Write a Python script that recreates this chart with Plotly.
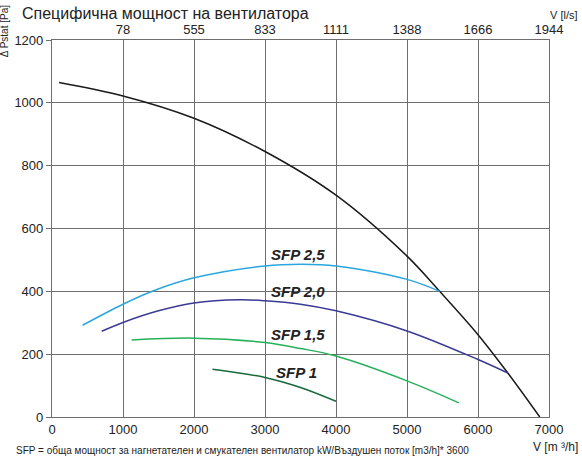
"""Специфична мощност на вентилатора - графика с Plotly."""

import plotly.graph_objects as go

# Характеристика на вентилатора (черна крива)
fan_x = [100, 1000, 2000, 3000, 4000, 5000, 5460, 6000, 6420, 6870]
fan_y = [1065, 1022, 951, 845, 706, 512, 400, 262, 140, 0]

# SFP криви
sfp25_x = [430, 1000, 1430, 2000, 3000, 3500, 4000, 5000, 5460]
sfp25_y = [292, 359, 402, 443, 481, 486, 481, 438, 400]

sfp20_x = [700, 1000, 1500, 2000, 2650, 3000, 3500, 4000, 5000, 6000, 6420]
sfp20_y = [273, 301, 338, 363, 373, 370, 359, 338, 274, 183, 140]

sfp15_x = [1120, 2000, 3000, 3500, 4000, 5000, 5730]
sfp15_y = [245, 251, 237, 218, 194, 115, 45]

sfp10_x = [2260, 3000, 3500, 4000]
sfp10_y = [152, 126, 94, 50]

# Етикети на кривите
label_text = ["SFP 2,5", "SFP 2,0", "SFP 1,5", "SFP 1"]
label_x = [3460, 3460, 3460, 3440]
label_y = [516, 399, 262, 142]

# Скали
x_ticks = [0, 1000, 2000, 3000, 4000, 5000, 6000, 7000]
top_ticks = [1000, 2000, 3000, 4000, 5000, 6000, 7000]
top_labels = ["78", "555", "833", "1111", "1388", "1666", "1944"]
y_ticks = [0, 200, 400, 600, 800, 1000, 1200]

FONT = "Liberation Sans, Arial, sans-serif"
GRID = "#6e6e6e"

fig = go.Figure()

curves = [
    (fan_x, fan_y, "#1a1a1a"),
    (sfp25_x, sfp25_y, "#2aa6df"),
    (sfp20_x, sfp20_y, "#3a3a96"),
    (sfp15_x, sfp15_y, "#25b05a"),
    (sfp10_x, sfp10_y, "#17693a"),
]
for xs, ys, color in curves:
    fig.add_trace(go.Scatter(
        x=xs, y=ys, mode="lines",
        line=dict(color=color, width=1.5, shape="spline", smoothing=1.0),
        showlegend=False, hoverinfo="skip",
    ))

# невидима следа за горната ос
fig.add_trace(go.Scatter(x=[0, 7000], y=[0, 0], xaxis="x2", mode="lines",
                         line=dict(width=0), showlegend=False, hoverinfo="skip"))

for txt, lx, ly in zip(label_text, label_x, label_y):
    fig.add_annotation(x=lx, y=ly, text=f"<b><i>{txt}</i></b>", showarrow=False,
                       font=dict(family=FONT, size=15, color="#222222"))

fig.add_annotation(xref="paper", yref="paper", x=-0.094, y=1.024, text="Δ Pstat [Pa]",
                   textangle=-90, showarrow=False, xanchor="center", yanchor="middle",
                   font=dict(family=FONT, size=10, color="#222222"))
fig.add_annotation(xref="paper", yref="paper", x=1.062, y=1.066, text="V [l/s]",
                   showarrow=False, xanchor="right", yanchor="middle",
                   font=dict(family=FONT, size=11, color="#222222"))
fig.add_annotation(xref="paper", yref="paper", x=1.062, y=-0.055, text="V [m ³/h]",
                   showarrow=False, xanchor="right", yanchor="top",
                   font=dict(family=FONT, size=12, color="#222222"))
fig.add_annotation(xref="paper", yref="paper", x=-0.076, y=-0.07,
                   text="SFP = обща мощност за нагнетателен и смукателен вентилатор kW/Въздушен поток [m3/h]* 3600",
                   showarrow=False, xanchor="left", yanchor="top",
                   font=dict(family=FONT, size=10, color="#222222"))

fig.update_layout(
    width=582, height=460,
    margin=dict(l=52, r=33, t=40, b=43),
    paper_bgcolor="white", plot_bgcolor="white",
    font=dict(family=FONT, size=13, color="#222222"),
    title=dict(text="Специфична мощност на вентилатора", x=22 / 582, xanchor="left",
               xref="container", y=1 - 13 / 460, yanchor="middle", yref="container",
               font=dict(family=FONT, size=16, color="#222222")),
    xaxis=dict(range=[0, 7000], tickvals=x_ticks, showgrid=True, gridcolor=GRID,
               gridwidth=1, showline=True, linecolor=GRID, linewidth=1.2,
               mirror=True, zeroline=False, ticks="", tickfont=dict(size=13)),
    xaxis2=dict(range=[0, 7000], overlaying="x", side="top", anchor="y",
                tickvals=top_ticks, ticktext=top_labels, showgrid=False,
                zeroline=False, ticks="", tickfont=dict(size=13),
                ticklabelstandoff=2),
    yaxis=dict(range=[0, 1200], tickvals=y_ticks, showgrid=True, gridcolor=GRID,
               gridwidth=1, showline=True, linecolor=GRID, linewidth=1.2,
               mirror=True, zeroline=False, ticks="outside", ticklen=5,
               tickcolor=GRID, tickfont=dict(size=13)),
)

fig.write_html("out.html", config={"displayModeBar": False},
               post_script="document.body.style.margin='0';")
